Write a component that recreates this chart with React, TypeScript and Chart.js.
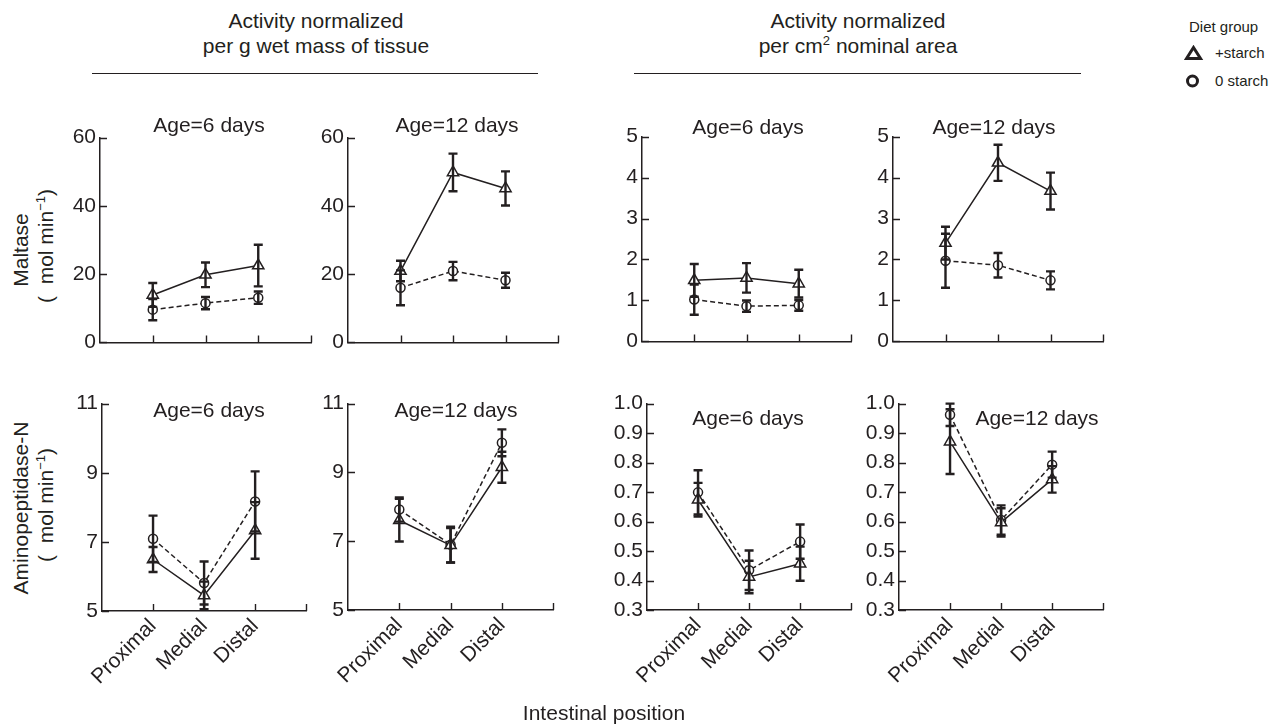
import React, { useEffect, useRef } from 'react';
import { Chart, registerables } from 'chart.js';

Chart.register(...registerables);

const FONT = '"Liberation Sans", Arial, Helvetica, sans-serif';
const INK = '#231f20';

// ---- categories ----
const positions = ['Proximal', 'Medial', 'Distal'];
const positionIndex = [1, 2, 3];
const xTickValues = [0, 1, 2, 3, 4];

// ---- y tick values ----
const maltaseGTicks = [0, 20, 40, 60];
const maltaseCmTicks = [0, 1, 2, 3, 4, 5];
const apnGTicks = [5, 7, 9, 11];
const apnCmTicks = [0.3, 0.4, 0.5, 0.6, 0.7, 0.8, 0.9, 1.0];

// ---- Maltase, per g wet mass, age 6 days ----
const maltG6Starch = [13.9, 19.8, 22.5];
const maltG6StarchErr = [3.5, 3.6, 6.1];
const maltG6Zero = [9.6, 11.5, 13.1];
const maltG6ZeroErr = [3.1, 1.8, 1.8];

// ---- Maltase, per g wet mass, age 12 days ----
const maltG12Starch = [20.9, 49.8, 45.1];
const maltG12StarchErr = [3.0, 5.5, 5.0];
const maltG12Zero = [16.0, 20.9, 18.2];
const maltG12ZeroErr = [5.1, 2.7, 2.2];

// ---- Maltase, per cm2, age 6 days ----
const maltC6Starch = [1.49, 1.55, 1.41];
const maltC6StarchErr = [0.4, 0.36, 0.34];
const maltC6Zero = [1.02, 0.86, 0.88];
const maltC6ZeroErr = [0.37, 0.14, 0.13];

// ---- Maltase, per cm2, age 12 days ----
const maltC12Starch = [2.4, 4.36, 3.67];
const maltC12StarchErr = [0.4, 0.44, 0.45];
const maltC12Zero = [1.97, 1.86, 1.49];
const maltC12ZeroErr = [0.66, 0.3, 0.22];

// ---- Aminopeptidase-N, per g, age 6 days ----
const apnG6Starch = [6.49, 5.45, 7.33];
const apnG6StarchErr = [0.36, 0.4, 0.82];
const apnG6Zero = [7.09, 5.81, 8.17];
const apnG6ZeroErr = [0.67, 0.62, 0.87];

// ---- Aminopeptidase-N, per g, age 12 days ----
const apnG12Starch = [7.61, 6.88, 9.15];
const apnG12StarchErr = [0.62, 0.5, 0.45];
const apnG12Zero = [7.92, 6.9, 9.86];
const apnG12ZeroErr = [0.35, 0.52, 0.39];

// ---- Aminopeptidase-N, per cm2, age 6 days ----
const apnC6Starch = [0.674, 0.412, 0.457];
const apnC6StarchErr = [0.057, 0.055, 0.058];
const apnC6Zero = [0.699, 0.435, 0.532];
const apnC6ZeroErr = [0.075, 0.067, 0.058];

// ---- Aminopeptidase-N, per cm2, age 12 days ----
const apnC12Starch = [0.871, 0.597, 0.743];
const apnC12StarchErr = [0.11, 0.048, 0.045];
const apnC12Zero = [0.962, 0.605, 0.793];
const apnC12ZeroErr = [0.038, 0.05, 0.044];

type Area = { left: number; top: number; right: number; bottom: number };
type PanelCfg = {
  area: Area;
  yTicks: number[];
  decimals: number;
  starch: number[];
  starchErr: number[];
  zero: number[];
  zeroErr: number[];
  showX: boolean;
  title: string;
  titleX: number;
  titleBaseline: number;
};

const panels: PanelCfg[] = [
  { area: { left: 100, top: 137, right: 311, bottom: 347 }, yTicks: maltaseGTicks, decimals: 0, starch: maltG6Starch, starchErr: maltG6StarchErr, zero: maltG6Zero, zeroErr: maltG6ZeroErr, showX: false, title: 'Age=6 days', titleX: 209, titleBaseline: 132 },
  { area: { left: 348, top: 137, right: 558, bottom: 347 }, yTicks: maltaseGTicks, decimals: 0, starch: maltG12Starch, starchErr: maltG12StarchErr, zero: maltG12Zero, zeroErr: maltG12ZeroErr, showX: false, title: 'Age=12 days', titleX: 457, titleBaseline: 132 },
  { area: { left: 642, top: 136, right: 851, bottom: 346 }, yTicks: maltaseCmTicks, decimals: 0, starch: maltC6Starch, starchErr: maltC6StarchErr, zero: maltC6Zero, zeroErr: maltC6ZeroErr, showX: false, title: 'Age=6 days', titleX: 748, titleBaseline: 134 },
  { area: { left: 893, top: 136, right: 1103, bottom: 346 }, yTicks: maltaseCmTicks, decimals: 0, starch: maltC12Starch, starchErr: maltC12StarchErr, zero: maltC12Zero, zeroErr: maltC12ZeroErr, showX: false, title: 'Age=12 days', titleX: 994, titleBaseline: 134 },
  { area: { left: 102, top: 403, right: 311, bottom: 611 }, yTicks: apnGTicks, decimals: 0, starch: apnG6Starch, starchErr: apnG6StarchErr, zero: apnG6Zero, zeroErr: apnG6ZeroErr, showX: true, title: 'Age=6 days', titleX: 209, titleBaseline: 417 },
  { area: { left: 348, top: 403, right: 558, bottom: 610 }, yTicks: apnGTicks, decimals: 0, starch: apnG12Starch, starchErr: apnG12StarchErr, zero: apnG12Zero, zeroErr: apnG12ZeroErr, showX: true, title: 'Age=12 days', titleX: 456, titleBaseline: 417 },
  { area: { left: 647, top: 403, right: 856, bottom: 610 }, yTicks: apnCmTicks, decimals: 1, starch: apnC6Starch, starchErr: apnC6StarchErr, zero: apnC6Zero, zeroErr: apnC6ZeroErr, showX: true, title: 'Age=6 days', titleX: 748, titleBaseline: 425 },
  { area: { left: 899, top: 403, right: 1108, bottom: 610 }, yTicks: apnCmTicks, decimals: 1, starch: apnC12Starch, starchErr: apnC12StarchErr, zero: apnC12Zero, zeroErr: apnC12ZeroErr, showX: true, title: 'Age=12 days', titleX: 1037, titleBaseline: 425 },
];

const panelPlugin = {
  id: 'panelDecor',
  afterDatasetsDraw(chart: any) {
    const ctx = chart.ctx;
    const ys = chart.scales.y;
    ctx.save();
    ctx.strokeStyle = INK;
    ctx.lineWidth = 2.4;
    ctx.lineCap = 'butt';
    chart.data.datasets.forEach((ds: any, i: number) => {
      const meta = chart.getDatasetMeta(i);
      meta.data.forEach((pt: any, j: number) => {
        const v = ds.data[j].y;
        const e = ds.errors[j];
        const top = ys.getPixelForValue(v + e);
        const bot = ys.getPixelForValue(v - e);
        ctx.beginPath();
        ctx.moveTo(pt.x, top);
        ctx.lineTo(pt.x, bot);
        ctx.moveTo(pt.x - 4.5, top);
        ctx.lineTo(pt.x + 4.5, top);
        ctx.moveTo(pt.x - 4.5, bot);
        ctx.lineTo(pt.x + 4.5, bot);
        ctx.stroke();
      });
    });
    ctx.restore();
  },
  afterDraw(chart: any) {
    const ctx = chart.ctx;
    const { x, y } = chart.scales;
    const area = chart.chartArea;
    ctx.save();
    ctx.strokeStyle = INK;
    ctx.lineWidth = 1.4;
    ctx.beginPath();
    y.ticks.forEach((t: any) => {
      const py = Math.round(y.getPixelForValue(t.value)) + 0.5;
      ctx.moveTo(area.left, py);
      ctx.lineTo(area.left + 7, py);
    });
    x.ticks.forEach((t: any) => {
      if (t.value === 0) return;
      const px = Math.round(x.getPixelForValue(t.value)) + 0.5;
      ctx.moveTo(px, area.bottom);
      ctx.lineTo(px, area.bottom - 7);
    });
    ctx.stroke();
    ctx.restore();
  },
};

const PAD_L = 70;
const PAD_T = 16;
const PAD_R = 16;

function Panel({ cfg }: { cfg: PanelCfg }) {
  const ref = useRef<HTMLCanvasElement>(null);
  const bottomSpace = cfg.showX ? 110 : 12;
  const w = cfg.area.right - cfg.area.left + PAD_L + PAD_R;
  const h = cfg.area.bottom - cfg.area.top + PAD_T + bottomSpace;

  useEffect(() => {
    if (!ref.current) return;
    const yMin = cfg.yTicks[0];
    const yMax = cfg.yTicks[cfg.yTicks.length - 1];
    const chart = new Chart(ref.current, {
      type: 'line',
      data: {
        datasets: [
          {
            label: '+starch',
            data: positionIndex.map((p, i) => ({ x: p, y: cfg.starch[i] })),
            errors: cfg.starchErr,
            borderColor: INK,
            borderWidth: 1.5,
            pointStyle: 'triangle',
            pointRadius: 6.5,
            pointBorderWidth: 1.5,
            pointBackgroundColor: '#ffffff',
            pointBorderColor: INK,
            tension: 0,
            clip: false,
          } as any,
          {
            label: '0 starch',
            data: positionIndex.map((p, i) => ({ x: p, y: cfg.zero[i] })),
            errors: cfg.zeroErr,
            borderColor: INK,
            borderWidth: 1.5,
            borderDash: [5, 3],
            pointStyle: 'circle',
            pointRadius: 4.5,
            pointBorderWidth: 1.5,
            pointBackgroundColor: '#ffffff',
            pointBorderColor: INK,
            tension: 0,
            clip: false,
          } as any,
        ],
      },
      options: {
        animation: false,
        responsive: false,
        maintainAspectRatio: false,
        devicePixelRatio: 1,
        events: [],
        layout: { padding: { top: PAD_T, right: PAD_R, left: 0, bottom: 0 } },
        plugins: { legend: { display: false }, tooltip: { enabled: false } },
        scales: {
          x: {
            type: 'linear',
            min: 0,
            max: 4,
            afterBuildTicks: (s: any) => {
              s.ticks = xTickValues.map((v) => ({ value: v }));
            },
            afterFit: (s: any) => {
              s.height = bottomSpace;
            },
            grid: { display: false, drawTicks: false },
            border: { display: true, color: INK, width: 1.5 },
            ticks: {
              display: cfg.showX,
              autoSkip: false,
              minRotation: 45,
              maxRotation: 45,
              padding: 3,
              color: INK,
              font: { family: FONT, size: 21 },
              callback: (v: any) => positions[Number(v) - 1] ?? '',
            },
          },
          y: {
            type: 'linear',
            min: yMin,
            max: yMax,
            afterBuildTicks: (s: any) => {
              s.ticks = cfg.yTicks.map((v) => ({ value: v }));
            },
            afterFit: (s: any) => {
              s.width = PAD_L;
            },
            grid: { display: false, drawTicks: false },
            border: { display: true, color: INK, width: 1.5 },
            ticks: {
              autoSkip: false,
              padding: 4,
              color: INK,
              font: { family: FONT, size: 21 },
              callback: (v: any) => Number(v).toFixed(cfg.decimals),
            },
          },
        },
      } as any,
      plugins: [panelPlugin],
    });
    return () => chart.destroy();
  }, []);

  return (
    <canvas
      ref={ref}
      width={w}
      height={h}
      style={{ position: 'absolute', left: cfg.area.left - PAD_L, top: cfg.area.top - PAD_T, width: w, height: h }}
    />
  );
}

const txt = (extra: React.CSSProperties): React.CSSProperties => ({
  position: 'absolute',
  fontSize: 21,
  lineHeight: '21px',
  color: INK,
  whiteSpace: 'pre',
  ...extra,
});

function Centered({ x, baseline, children }: { x: number; baseline: number; children: React.ReactNode }) {
  return <div style={txt({ left: x - 200, width: 400, top: baseline - 18, textAlign: 'center' })}>{children}</div>;
}

function Rotated({ cx, cy, children }: { cx: number; cy: number; children: React.ReactNode }) {
  return (
    <div style={{ position: 'absolute', left: cx, top: cy, width: 0, height: 0 }}>
      <div
        style={txt({
          left: 0,
          top: 0,
          transform: 'translate(-50%, -50%) rotate(-90deg)',
          lineHeight: '24px',
        })}
      >
        {children}
      </div>
    </div>
  );
}

const supStyle: React.CSSProperties = { fontSize: '0.62em', verticalAlign: '0.6em', lineHeight: 0 };

export default function App() {
  return (
    <div
      style={{
        position: 'fixed',
        left: 0,
        top: 0,
        width: 1281,
        height: 725,
        background: '#ffffff',
        overflow: 'hidden',
        fontFamily: FONT,
      }}
    >
      {/* Column headers */}
      <div style={txt({ left: 116, width: 400, top: 8, textAlign: 'center', lineHeight: '25px' })}>
        {'Activity normalized'}
        <br />
        {'per g wet mass of tissue'}
      </div>
      <div style={{ position: 'absolute', left: 92, top: 73, width: 446, borderTop: `1.5px solid ${INK}` }} />
      <div style={txt({ left: 658, width: 400, top: 8, textAlign: 'center', lineHeight: '25px' })}>
        {'Activity normalized'}
        <br />
        {'per cm'}
        <sup style={supStyle}>2</sup>
        {' nominal area'}
      </div>
      <div style={{ position: 'absolute', left: 634, top: 73, width: 447, borderTop: `1.5px solid ${INK}` }} />

      {/* Legend */}
      <div style={{ position: 'absolute', left: 1189, top: 19, fontSize: 15, lineHeight: '15px', color: INK }}>Diet group</div>
      <svg style={{ position: 'absolute', left: 1184, top: 45 }} width={20} height={16}>
        <polygon points="9.5,2.5 16.5,13.5 2.5,13.5" fill="#ffffff" stroke={INK} strokeWidth={3} />
      </svg>
      <div style={{ position: 'absolute', left: 1215, top: 45, fontSize: 15, lineHeight: '15px', color: INK }}>+starch</div>
      <svg style={{ position: 'absolute', left: 1184, top: 73 }} width={18} height={16}>
        <circle cx={8.5} cy={8} r={5} fill="#ffffff" stroke={INK} strokeWidth={3} />
      </svg>
      <div style={{ position: 'absolute', left: 1215, top: 73, fontSize: 15, lineHeight: '15px', color: INK }}>0 starch</div>

      {/* Y axis titles */}
      <Rotated cx={21} cy={250}>{'Maltase'}</Rotated>
      <Rotated cx={46} cy={246}>
        {'(\u00a0\u00a0mol min'}
        <sup style={supStyle}>−1</sup>
        {')'}
      </Rotated>
      <Rotated cx={21} cy={508}>{'Aminopeptidase-N'}</Rotated>
      <Rotated cx={46} cy={505}>
        {'(\u00a0\u00a0mol min'}
        <sup style={supStyle}>−1</sup>
        {')'}
      </Rotated>

      {/* Panels */}
      {panels.map((p, i) => (
        <Panel key={i} cfg={p} />
      ))}

      {/* Panel titles */}
      {panels.map((p, i) => (
        <Centered key={'t' + i} x={p.titleX} baseline={p.titleBaseline}>
          {p.title}
        </Centered>
      ))}

      {/* X axis title */}
      <Centered x={604} baseline={720}>{'Intestinal position'}</Centered>
    </div>
  );
}
